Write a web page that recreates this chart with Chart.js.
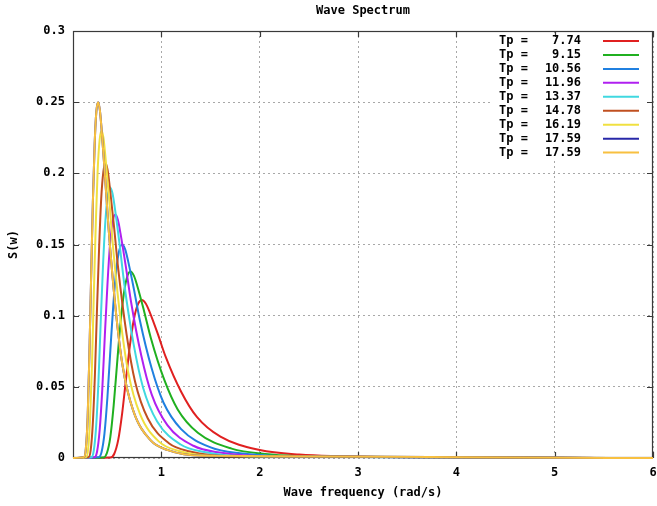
<!DOCTYPE html>
<html>
<head>
<meta charset="utf-8">
<script src="https://cdn.jsdelivr.net/npm/chart.js@4"></script>
<style>
  html, body { margin: 0; padding: 0; background: #fff; }
  #wrap { width: 657px; height: 506px; position: relative; }
</style>
</head>
<body>
<div id="wrap"><canvas id="grafica"></canvas></div>
<script>
// Tp values shown in the key
const tpLabels = ['7.74', '9.15', '10.56', '11.96', '13.37', '14.78', '16.19', '17.59', '17.59'];
const lineColors = ['#e02020', '#20b020', '#2080e0', '#b020f0', '#40d8e0', '#c05020', '#f0e040', '#2828a8', '#f8c040'];

// frequency (rad/s) and S(w)
const freq774 = [0.1, 0.48, 0.52, 0.56, 0.60, 0.64, 0.68, 0.72, 0.76, 0.80, 0.84, 0.88, 0.96, 1.04, 1.20, 1.36, 1.60, 2.00, 2.40, 3.20, 6];
const spec774 = [0, 0.0003, 0.0030, 0.0127, 0.0314, 0.0559, 0.0796, 0.0977, 0.1079, 0.111, 0.1086, 0.1025, 0.0877, 0.0716, 0.0466, 0.0289, 0.0150, 0.0056, 0.0024, 0.0007, 0];

const freq915 = [0.1, 0.411, 0.445, 0.480, 0.514, 0.548, 0.582, 0.617, 0.651, 0.685, 0.719, 0.754, 0.822, 0.891, 1.028, 1.165, 1.370, 1.713, 2.055, 2.740, 6];
const spec915 = [0, 0.0004, 0.0035, 0.0149, 0.0371, 0.0660, 0.0939, 0.1153, 0.1273, 0.131, 0.1281, 0.1209, 0.1035, 0.0845, 0.0550, 0.0341, 0.0177, 0.0066, 0.0029, 0.0008, 0];

const freq1056 = [0.1, 0.36, 0.39, 0.42, 0.45, 0.48, 0.51, 0.54, 0.57, 0.60, 0.63, 0.66, 0.72, 0.78, 0.90, 1.02, 1.20, 1.50, 1.80, 2.40, 6];
const spec1056 = [0, 0.0005, 0.0041, 0.0171, 0.0425, 0.0756, 0.1076, 0.132, 0.1458, 0.150, 0.1467, 0.1385, 0.1185, 0.0968, 0.063, 0.039, 0.0203, 0.0075, 0.0033, 0.0009, 0];

const freq1196 = [0.1, 0.318, 0.345, 0.371, 0.398, 0.424, 0.451, 0.477, 0.504, 0.53, 0.557, 0.583, 0.636, 0.689, 0.795, 0.901, 1.06, 1.325, 1.59, 2.12, 6];
const spec1196 = [0, 0.0005, 0.0046, 0.0195, 0.0484, 0.0862, 0.1226, 0.1505, 0.1662, 0.171, 0.1672, 0.1578, 0.1351, 0.1103, 0.0718, 0.0445, 0.0231, 0.0086, 0.0038, 0.001, 0];

const freq1337 = [0.1, 0.287, 0.311, 0.335, 0.359, 0.382, 0.406, 0.430, 0.454, 0.478, 0.502, 0.526, 0.574, 0.621, 0.717, 0.813, 0.956, 1.195, 1.434, 1.912, 6];
const spec1337 = [0, 0.0006, 0.0051, 0.0217, 0.0538, 0.0958, 0.1362, 0.1672, 0.1847, 0.190, 0.1858, 0.1754, 0.1501, 0.1226, 0.0798, 0.0494, 0.0257, 0.0095, 0.0042, 0.0011, 0];

const freq1478 = [0.1, 0.258, 0.280, 0.301, 0.323, 0.344, 0.366, 0.387, 0.409, 0.43, 0.452, 0.473, 0.516, 0.559, 0.645, 0.731, 0.86, 1.075, 1.29, 1.72, 6];
const spec1478 = [0, 0.0006, 0.0056, 0.0236, 0.0586, 0.1043, 0.1484, 0.1822, 0.2012, 0.207, 0.2024, 0.1911, 0.1635, 0.1335, 0.0869, 0.0538, 0.0279, 0.0104, 0.0046, 0.0012, 0];

const freq1619 = [0.1, 0.234, 0.254, 0.273, 0.293, 0.312, 0.332, 0.351, 0.371, 0.39, 0.410, 0.429, 0.468, 0.507, 0.585, 0.663, 0.78, 0.975, 1.17, 1.56, 6];
const spec1619 = [0, 0.0007, 0.0062, 0.0262, 0.0651, 0.1159, 0.1649, 0.2024, 0.2236, 0.230, 0.2249, 0.2123, 0.1817, 0.1484, 0.0966, 0.0598, 0.0311, 0.0115, 0.0051, 0.0014, 0];

const freq1759 = [0.1, 0.213, 0.231, 0.249, 0.266, 0.284, 0.302, 0.320, 0.337, 0.355, 0.373, 0.391, 0.426, 0.462, 0.533, 0.604, 0.71, 0.888, 1.065, 1.42, 6];
const spec1759 = [0, 0.0008, 0.0068, 0.0285, 0.0708, 0.126, 0.1793, 0.220, 0.243, 0.250, 0.2445, 0.2308, 0.1975, 0.1613, 0.105, 0.065, 0.0338, 0.0125, 0.0055, 0.0015, 0];

const xTicks = [1, 2, 3, 4, 5, 6];

const series = [
    [freq774, spec774], [freq915, spec915], [freq1056, spec1056],
    [freq1196, spec1196], [freq1337, spec1337], [freq1478, spec1478],
    [freq1619, spec1619], [freq1759, spec1759], [freq1759, spec1759]
];

const FONT = 'bold 12px "DejaVu Sans Mono", monospace';

const datasets = series.map((s, i) => ({
    label: 'Tp = ' + tpLabels[i],
    data: s[0].map((f, k) => ({ x: f, y: s[1][k] })),
    borderColor: lineColors[i],
    borderWidth: 2,
    pointRadius: 0,
    fill: false,
    cubicInterpolationMode: 'monotone',
    order: series.length - i,
    clip: 3
}));

// gnuplot style frame, ticks, titles and key
const marcoGnuplot = {
    id: 'marcoGnuplot',
    beforeDatasetsDraw(chart) {
        const { ctx, chartArea: a, scales } = chart;
        ctx.save();
        // key background
        ctx.fillStyle = '#fff';
        ctx.fillRect(a.right - 163, a.top + 2, 158, 128);
        // border
        ctx.strokeStyle = '#3a3a3a';
        ctx.lineWidth = 1.2;
        ctx.strokeRect(a.left + 0.5, a.top + 0.5, a.right - a.left - 1, a.bottom - a.top - 1);
        // tick marks inward
        ctx.beginPath();
        scales.x.ticks.forEach(t => {
            const px = Math.round(scales.x.getPixelForValue(t.value)) + 0.5;
            ctx.moveTo(px, a.bottom); ctx.lineTo(px, a.bottom - 6);
            ctx.moveTo(px, a.top); ctx.lineTo(px, a.top + 6);
        });
        scales.y.ticks.forEach(t => {
            const py = Math.round(scales.y.getPixelForValue(t.value)) + 0.5;
            ctx.moveTo(a.left, py); ctx.lineTo(a.left + 6, py);
            ctx.moveTo(a.right, py); ctx.lineTo(a.right - 6, py);
        });
        ctx.stroke();
        ctx.restore();
    },
    afterDraw(chart) {
        const { ctx, chartArea: a } = chart;
        ctx.save();
        ctx.font = FONT;
        ctx.fillStyle = '#000';
        ctx.textBaseline = 'middle';
        ctx.textAlign = 'center';
        ctx.fillText('Wave Spectrum', (a.left + a.right) / 2, 11);
        ctx.fillText('Wave frequency (rad/s)', (a.left + a.right) / 2, 493);
        ctx.save();
        ctx.translate(14, (a.top + a.bottom) / 2);
        ctx.rotate(-Math.PI / 2);
        ctx.fillText('S(w)', 0, 0);
        ctx.restore();
        // key
        tpLabels.forEach((tp, i) => {
            const y = a.top + 10 + i * 13.95;
            ctx.textAlign = 'left';
            ctx.fillText('Tp =', a.right - 154, y);
            ctx.textAlign = 'right';
            ctx.fillText(tp, a.right - 72, y);
            ctx.strokeStyle = lineColors[i];
            ctx.lineWidth = 2;
            ctx.beginPath();
            ctx.moveTo(a.right - 50, y);
            ctx.lineTo(a.right - 14, y);
            ctx.stroke();
        });
        ctx.restore();
    }
};

new Chart(document.getElementById('grafica').getContext('2d'), {
    type: 'line',
    data: { datasets: datasets },
    options: {
        responsive: true,
        maintainAspectRatio: false,
        animation: false,
        layout: { padding: { top: 31, right: 4, left: 0, bottom: 0 } },
        plugins: {
            legend: { display: false },
            tooltip: { enabled: false }
        },
        scales: {
            x: {
                type: 'linear',
                min: 0.1,
                max: 6,
                afterBuildTicks: (scale) => { scale.ticks = xTicks.map(v => ({ value: v })); },
                afterFit: (scale) => { scale.height = 48; scale.paddingLeft = 0; scale.paddingRight = 0; },
                grid: { color: '#a8a8a8', lineWidth: 1, drawTicks: false },
                border: { display: false, dash: [2, 3] },
                ticks: {
                    autoSkip: false,
                    maxRotation: 0,
                    padding: 8,
                    color: '#000',
                    font: { family: '"DejaVu Sans Mono", monospace', size: 12, weight: 'bold' },
                    callback: (v) => String(v)
                }
            },
            y: {
                min: 0,
                max: 0.3,
                ticks: {
                    stepSize: 0.05,
                    padding: 8,
                    color: '#000',
                    font: { family: '"DejaVu Sans Mono", monospace', size: 12, weight: 'bold' },
                    callback: (v) => String(+Number(v).toFixed(2))
                },
                afterFit: (scale) => { scale.width = 73; scale.paddingTop = 0; scale.paddingBottom = 0; },
                grid: { color: '#a8a8a8', lineWidth: 1, drawTicks: false },
                border: { display: false, dash: [2, 3] }
            }
        }
    },
    plugins: [marcoGnuplot]
});
</script>
</body>
</html>
